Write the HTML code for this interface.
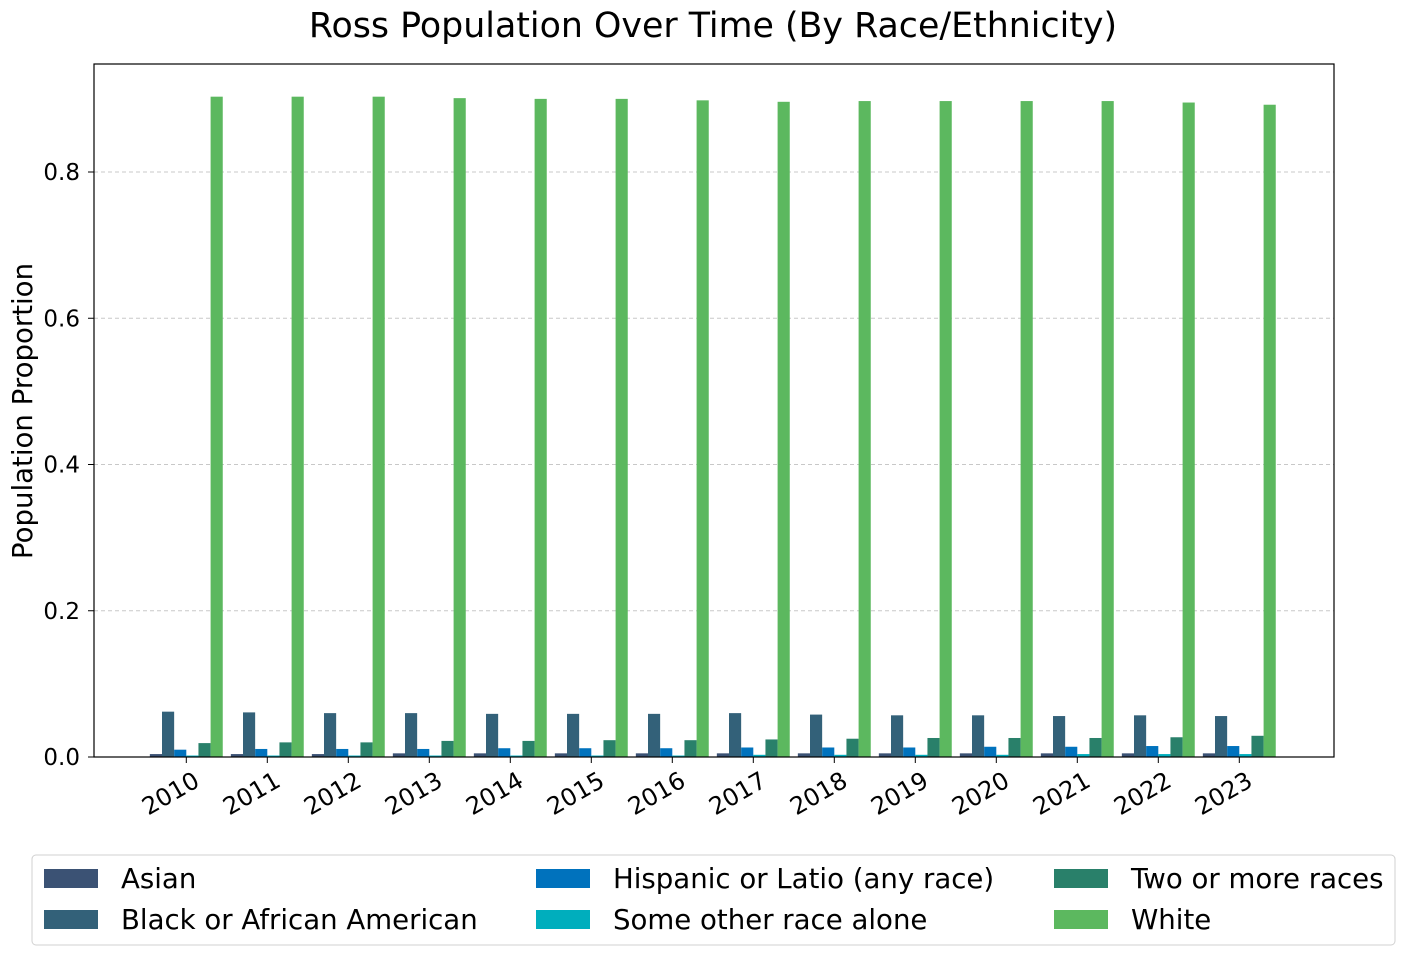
<!DOCTYPE html>
<html><head><meta charset="utf-8"><style>
body{margin:0;background:#fff;font-family:"Liberation Sans","DejaVu Sans",sans-serif;}
</style></head><body>
<svg id="chart" width="1404" height="956" style="font-family:'DejaVu Sans','Liberation Sans',sans-serif">
<text x="713" y="37" text-anchor="middle" font-size="34.8">Ross Population Over Time (By Race/Ethnicity)</text>
<g id="grid"></g>
<g id="bars"></g>
<rect x="94" y="64" width="1240" height="693" fill="none" stroke="#000" stroke-width="1.2"/>
<g id="axes"></g>
<text transform="translate(32,411) rotate(-90)" text-anchor="middle" font-size="27.6">Population Proportion</text>
<g id="legend"></g>
</svg>
<script>
const years=[2010,2011,2012,2013,2014,2015,2016,2017,2018,2019,2020,2021,2022,2023];
const seriesNames=["Asian","Black or African American","Hispanic or Latio (any race)","Some other race alone","Two or more races","White"];
const colors=["#3b5274","#336179","#0072bd","#00aebd","#29806a","#5cb85f"];
const asian=[0.004,0.004,0.004,0.005,0.005,0.005,0.005,0.005,0.005,0.005,0.005,0.005,0.005,0.005];
const black=[0.062,0.061,0.060,0.060,0.059,0.059,0.059,0.060,0.058,0.057,0.057,0.056,0.057,0.056];
const hispanic=[0.010,0.011,0.011,0.011,0.012,0.012,0.012,0.013,0.013,0.013,0.014,0.014,0.015,0.015];
const other=[0.002,0.002,0.002,0.002,0.002,0.002,0.002,0.003,0.003,0.003,0.003,0.004,0.004,0.004];
const twoPlus=[0.019,0.020,0.020,0.022,0.022,0.023,0.023,0.024,0.025,0.026,0.026,0.026,0.027,0.029];
const white=[0.903,0.903,0.903,0.901,0.900,0.900,0.898,0.896,0.897,0.897,0.897,0.897,0.895,0.892];
const yTicks=[0.0,0.2,0.4,0.6,0.8];
const series=[asian,black,hispanic,other,twoPlus,white];
const NS="http://www.w3.org/2000/svg";
const y0=757, pxPerUnit=731.25;
const yScale=v=>y0-v*pxPerUnit;
const step=81, bw=12.15;
const xTick=i=>186.3+i*step;
const xBar=(i,s)=>xTick(i)+(s-3)*bw;
function mk(tag,attrs,parent){const e=document.createElementNS(NS,tag);for(const k in attrs)e.setAttribute(k,attrs[k]);parent.appendChild(e);return e;}
const grid=document.getElementById('grid'),bars=document.getElementById('bars'),axes=document.getElementById('axes'),legend=document.getElementById('legend');
yTicks.forEach(t=>{
  const y=yScale(t);
  if(t>0){const g=mk('line',{x1:94,x2:1334,y1:y,y2:y,stroke:'#c8c8c8','stroke-dasharray':'4,3','stroke-width':1},grid);
  
  }
  const tk=mk('line',{x1:88,x2:94,y1:y,y2:y,stroke:'#000'},axes);
  
  
  const tx=mk('text',{x:80,y:y+8,'text-anchor':'end','font-size':23},axes);
  tx.textContent=t.toFixed(1);
  
  
});
series.forEach((arr,s)=>{arr.forEach((v,i)=>{
  const r=mk('rect',{x:xBar(i,s),y:yScale(v),width:bw,height:v*pxPerUnit,fill:colors[s]},bars);
  
  
});});
years.forEach((yr,i)=>{
  const x=xTick(i);
  const tk=mk('line',{x1:x,x2:x,y1:757,y2:763,stroke:'#000'},axes);
  
  
  const tx=mk('text',{transform:`translate(${x+6},${770}) rotate(-30)`,'text-anchor':'end','font-size':24,'dominant-baseline':'hanging'},axes);
  tx.textContent=yr;
  
  
});
const box=mk('rect',{x:32,y:855,width:1363,height:90,rx:4,fill:'#fff',stroke:'#d0d0d0'},legend);


const colX=[44,536,1054];
seriesNames.forEach((n,k)=>{
  const c=Math.floor(k/2),r=k%2;
  const y=869+r*41;
  const p=mk('rect',{x:colX[c],y:y,width:54,height:19,fill:colors[k]},legend);
  
  
  const t=mk('text',{x:colX[c]+77,y:y+19,'font-size':27.6},legend);
  t.textContent=n;
  
  
});
</script>
</body></html>
